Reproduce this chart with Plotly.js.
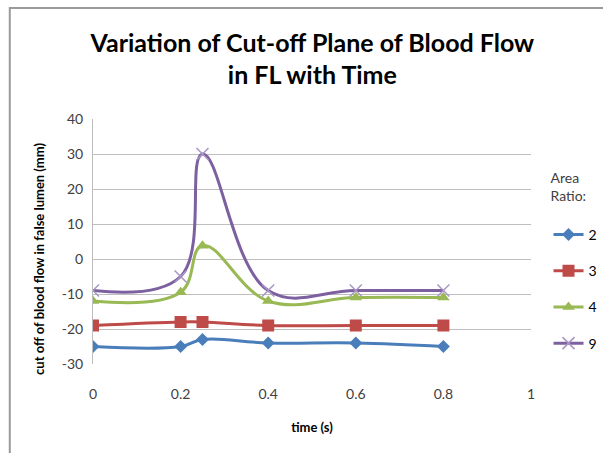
<!DOCTYPE html>
<html>
<head>
<meta charset="utf-8">
<script src="https://cdn.plot.ly/plotly-3.0.1.min.js"></script>
<style>html,body{margin:0;padding:0;background:#fff;}#chart{width:603px;height:453px;}</style>
</head>
<body>
<div id="chart"></div>
<script>
const time = [0, 0.2, 0.25, 0.4, 0.6, 0.8];
const ratio2 = [-25, -25, -23, -24, -24, -25];
const ratio3 = [-19, -18, -18, -19, -19, -19];
const ratio4 = [-12, -9.5, 3.8, -12, -11, -11];
const ratio9 = [-9, -5, 30, -9, -9, -9];
const seriesNames = ['2', '3', '4', '9'];
const xTicks = [0, 0.2, 0.4, 0.6, 0.8, 1];
const yTicks = [-30, -20, -10, 0, 10, 20, 30, 40];

const colors = ['#4A7EBB', '#BE4B48', '#98B954', '#7D60A0'];
const symbols = ['diamond', 'square', 'triangle-up', 'x-thin'];
const msizes = [10, 12, 11, 12];
const values = [ratio2, ratio3, ratio4, ratio9];

const traces = values.map((v, i) => ({
  x: time, y: v, name: seriesNames[i], type: 'scatter', mode: 'lines+markers',
  legendgroup: 'g' + i,
  line: {color: colors[i], width: 3, shape: 'spline', smoothing: 1.15},
  marker: {symbol: symbols[i], size: msizes[i], color: colors[i],
           line: {color: i === 3 ? '#A896C4' : colors[i], width: i === 3 ? 1.5 : 0}}
}));

const layout = {
  width: 603, height: 453,
  margin: {l: 93, r: 72, t: 119, b: 89, autoexpand: false},
  paper_bgcolor: '#fff', plot_bgcolor: '#fff',
  font: {family: 'Lato, "Open Sans", sans-serif', color: '#404040', size: 14},
  title: {text: '<b>Variation of Cut-off Plane of Blood Flow<br>in FL with Time</b>',
          font: {family: 'Lato, "Open Sans", sans-serif', size: 25, color: '#000'},
          x: 0.518, xanchor: 'center', y: 0.886, yanchor: 'middle'},
  xaxis: {range: [0, 1], tickvals: xTicks, ticktext: xTicks.map(String),
          showgrid: false, zeroline: false, showline: false, ticks: '',
          tickfont: {size: 14, color: '#404040'}, ticklabelstandoff: 20,
          title: {text: '<b>time (s)</b>', font: {size: 13, color: '#000'}, standoff: 21}},
  yaxis: {range: [-30, 40], tickvals: yTicks, ticktext: yTicks.map(String),
          showgrid: true, gridcolor: '#BEBEBE', gridwidth: 1, zeroline: false,
          showline: true, linecolor: '#BEBEBE', linewidth: 1, ticks: '',
          tickfont: {size: 14, color: '#404040'}, ticklabelstandoff: 6,
          title: {text: ''}},
  showlegend: true,
  legend: {x: 1.04, xanchor: 'left', y: 0.815, yanchor: 'top',
           title: {text: 'Area<br>Ratio:<br> ', font: {size: 14, color: '#404040'}},
           traceorder: 'grouped', tracegroupgap: 15,
           font: {size: 14, color: '#000'}, bgcolor: 'rgba(0,0,0,0)', itemwidth: 30},
  annotations: [{xref: 'paper', yref: 'paper', x: -0.125, y: 0.43, xanchor: 'center', yanchor: 'middle',
                 textangle: -90, showarrow: false,
                 text: '<b>cut off of blood flow in false lumen (mm)</b>',
                 font: {size: 13, color: '#000'}}],
  shapes: [{type: 'rect', xref: 'paper', yref: 'paper', x0: -0.19, x1: 1.25, y0: -0.5, y1: 1.453,
            line: {color: '#9A9A9A', width: 2}, fillcolor: 'rgba(0,0,0,0)', layer: 'below'}]
};

Plotly.newPlot('chart', traces, layout, {staticPlot: true, displayModeBar: false});
</script>
</body>
</html>
